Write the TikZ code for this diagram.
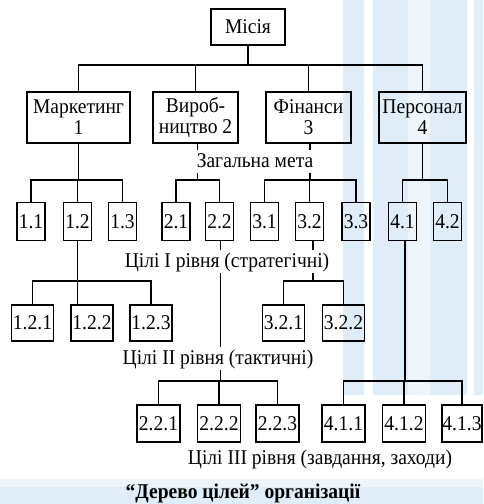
\documentclass[tikz,border=0pt]{standalone}
\usepackage{fontspec}
\setmainfont{Liberation Serif}[FakeStretch=0.93]
\definecolor{wm}{RGB}{222,237,247}
\definecolor{wmpale}{RGB}{237,245,251}
\begin{document}
\begin{tikzpicture}[x=1pt,y=-1pt,
  txt/.style={font=\fontsize{21}{21}\selectfont},
  box/.style={txt, draw, line width=1.2pt, inner sep=0pt, align=center},
  top/.style={box, minimum width=74pt, minimum height=36pt},
  dir/.style={box, minimum width=85pt, minimum height=51pt},
  g1/.style={box, minimum width=28pt, minimum height=38pt},
  g2/.style={box, minimum width=42pt, minimum height=36pt},
  g3/.style={box, minimum width=43pt, minimum height=37pt},
  lvl/.style={txt, anchor=base, inner xsep=2pt, inner ysep=2.5pt,
              text height=15pt, text depth=3pt},
  link/.style={line width=1.1pt}]
\useasboundingbox (0,0) rectangle (483,504);

% background watermark
\fill[wm] (343,0) rectangle (483,395);
\fill[white] (364,0) rectangle (373,395);
\fill[wmpale] (408,0) rectangle (430,395);
\fill[white] (467,0) rectangle (474,395);
\fill[wmpale] (0,479) rectangle (483,487);
\fill[wm] (0,487) rectangle (483,504);

% mission and directions
\node[top] (mis) at (248,27) {Місія};
\node[dir, minimum width=103pt] (mk) at (78.5,117.5) {Маркетинг\\1};
\node[dir] (vy) at (195.5,117.5) {Вироб-\\ництво 2};
\node[dir] (fin) at (308.5,117.5) {Фінанси\\3};
\node[dir, minimum width=87pt] (per) at (422.5,117.5) {Персонал\\4};

% first-level goals
\node[g1] (n11) at (31,221.5) {1.1};
\node[g1] (n12) at (77.5,221.5) {1.2};
\node[g1] (n13) at (122.5,221.5) {1.3};
\node[g1] (n21) at (176,221.5) {2.1};
\node[g1] (n22) at (219.5,221.5) {2.2};
\node[g1] (n31) at (264.5,221.5) {3.1};
\node[g1] (n32) at (309.5,221.5) {3.2};
\node[g1] (n33) at (356,221.5) {3.3};
\node[g1] (n41) at (402.5,221.5) {4.1};
\node[g1] (n42) at (447.5,221.5) {4.2};

% second-level goals
\node[g2] (n121) at (32.5,323) {1.2.1};
\node[g2] (n122) at (92,323) {1.2.2};
\node[g2] (n123) at (151,323) {1.2.3};
\node[g2] (n321) at (283.5,323) {3.2.1};
\node[g2] (n322) at (343.5,323) {3.2.2};

% third-level goals
\node[g3] (n221) at (158.5,423.5) {2.2.1};
\node[g3] (n222) at (219,423.5) {2.2.2};
\node[g3] (n223) at (277.5,423.5) {2.2.3};
\node[g3] (n411) at (343.5,423.5) {4.1.1};
\node[g3] (n412) at (404,423.5) {4.1.2};
\node[g3, minimum width=40pt] (n413) at (462,423.5) {4.1.3};

% junction points
\coordinate (b0) at (248,65);
\coordinate (b1) at (0,180);
\coordinate (b2) at (0,281);
\coordinate (b3) at (0,381);
\coordinate (j32) at (313,281);
\coordinate (j41) at (405,381);

% connectors
\begin{scope}[link]
\draw (mis.south) -- (b0);
\draw (mk.north) |- (b0 -| per.north) -- (per.north);
\draw (vy.north) -- (vy.north |- b0);
\draw (fin.north) -- (fin.north |- b0);

\draw (mk.south) -- (mk.south |- b1);
\draw (n11.north) |- (b1 -| n13.north) -- (n13.north);
\draw (n12.north) -- (n12.north |- b1);
\draw ([xshift=2pt]vy.south) -- ([xshift=2pt]vy.south |- b1);
\draw (n21.north) |- (b1 -| n22.north) -- (n22.north);
\draw ([xshift=1.5pt]fin.south) -- ([xshift=1.5pt]fin.south |- b1);
\draw (n31.north) |- (b1 -| n33.north) -- (n33.north);
\draw (n32.north) -- (n32.north |- b1);
\draw (per.south) -- (per.south |- b1);
\draw (n41.north) |- (b1 -| n42.north) -- (n42.north);

\draw (n12.south) -- (n12.south |- n122.north);
\draw (n121.north) |- (b2 -| n123.north) -- (n123.north);
\draw (n32.south -| j32) -- (j32);
\draw (n321.north) |- (b2 -| n322.north) -- (n322.north);

\draw ([xshift=1pt]n22.south) -- ([xshift=1pt]n22.south |- b3);
\draw (n221.north) |- (b3 -| n223.north) -- (n223.north);
\draw (n222.north) -- (n222.north |- b3);
\draw (n41.south -| j41) -- (j41);
\draw (n411.north) |- (b3 -| n413.north) -- (n413.north);
\draw (n412.north) -- (n412.north |- b3);
\end{scope}

% level captions
\node[lvl, fill=white] (cap0) at (255,167) {Загальна мета};
\node[lvl, fill=white] (cap1) at (227,267) {Цілі I рівня (стратегічні)};
\node[lvl, fill=white] (cap2) at (218,364) {Цілі II рівня (тактичні)};
\node[lvl] (cap3) at (320,464) {Цілі III рівня (завдання, заходи)};
\node[lvl, font=\fontsize{21}{21}\selectfont\bfseries] (title) at (243,498) {“Дерево цілей” організації};
\end{tikzpicture}
\end{document}
